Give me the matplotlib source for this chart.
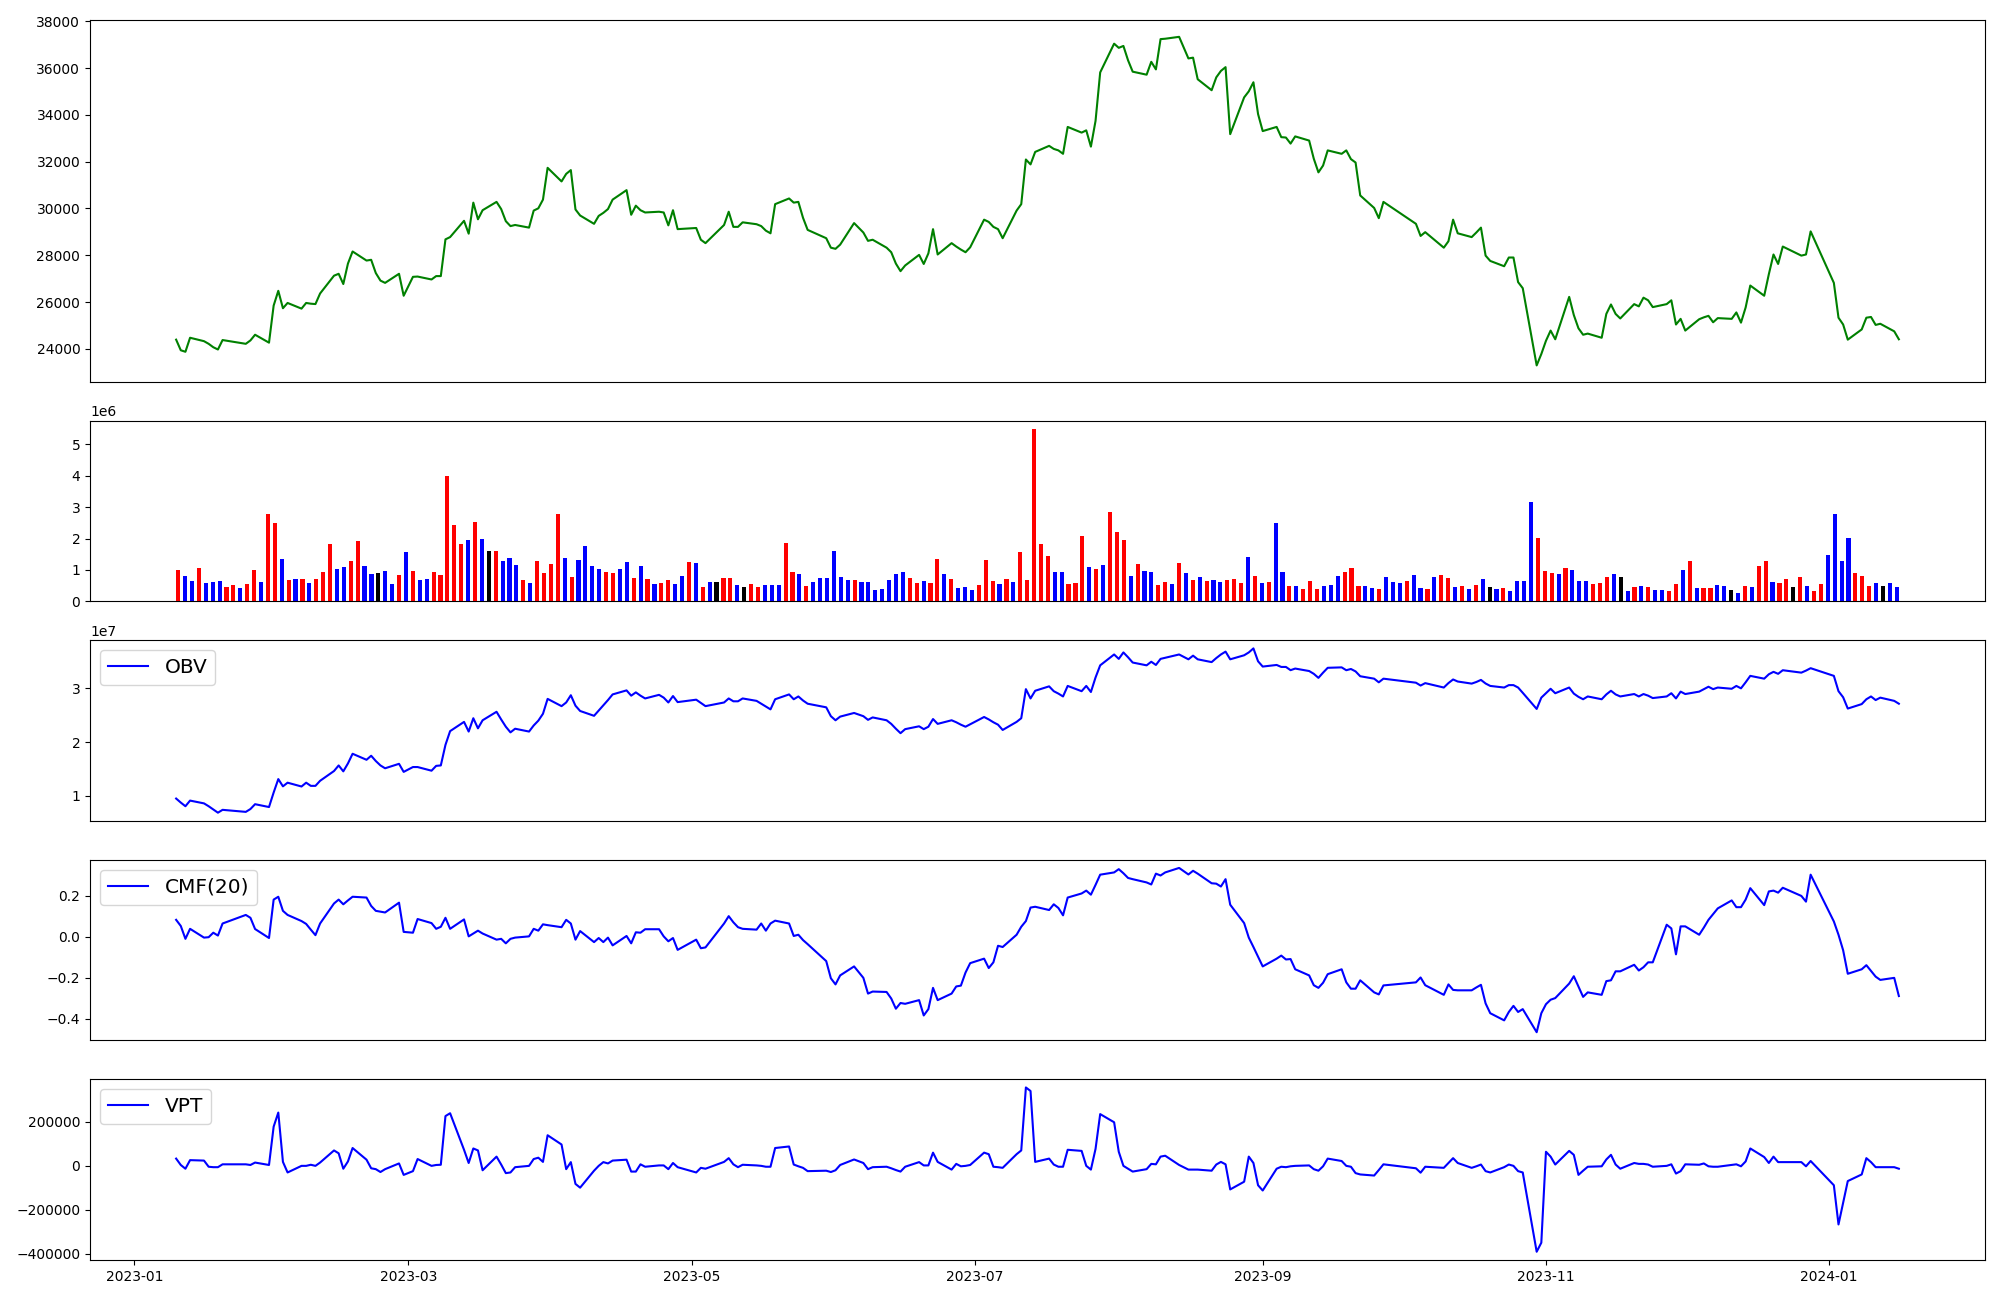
import matplotlib
matplotlib.use("Agg")
import matplotlib.pyplot as plt
import numpy as np
import pandas as pd

# trading days (KRX holidays removed)
holidays = ['2023-01-23', '2023-01-24', '2023-03-01', '2023-05-01', '2023-05-05',
            '2023-05-29', '2023-06-06', '2023-08-15', '2023-09-28', '2023-09-29',
            '2023-10-02', '2023-10-03', '2023-10-09', '2023-12-25', '2023-12-29',
            '2024-01-01']
dates = pd.bdate_range('2023-01-10', '2024-01-16')
dates = dates[~dates.isin(pd.to_datetime(holidays))]

# closing price
close = [
    24393, 23939, 23875, 24474, 24328, 24215, 24069, 23972, 24376, 24215, 24360, 24603, 24264, 25849,
    26480, 25736, 25962, 25719, 25962, 25930, 25914, 26366, 27127, 27208, 26771, 27645, 28162, 27774,
    27806, 27240, 26917, 26820, 27208, 26270,
    27078, 27090, 26965, 27110, 27110, 28680, 28777, 29473, 28923, 30250, 29538, 29926, 30282, 29975,
    29457, 29247, 29295, 29182, 29910, 30007, 30379, 31738,
    31156, 31479, 31641, 29958, 29700, 29344, 29683, 29813, 29975, 30379, 30784, 29732, 30120, 29926,
    29829, 29861, 29829, 29279, 29926, 29117,
    29166, 28664, 28519, 29295, 29861, 29214, 29214, 29408, 29327, 29247, 29052, 28939, 30185, 30428,
    30250, 30282, 29603, 29085, 28729, 28324,
    28276, 28454, 29376, 28972, 28616, 28664, 28324, 28130, 27645, 27321, 27564, 28017, 27628, 28081,
    29117, 28033, 28518, 28373, 28244, 28130, 28340,
    29522, 29425, 29214, 29117, 28729, 29910, 30185, 32094, 31884, 32418, 32677, 32547, 32483, 32337,
    33486, 33243, 33340, 32644, 33745, 35816, 37045,
    36867, 36948, 36334, 35848, 35719, 36269, 35945, 37240, 37256, 37337, 36414, 36447, 35524, 35055,
    35605, 35880, 36042, 33178, 34748, 35007, 35395, 34036,
    33308, 33486, 33049, 33033, 32774, 33081, 32903, 32127, 31544, 31836, 32483, 32337, 32483, 32110,
    31965, 30557, 30023, 29586, 30282,
    29344, 28826, 28988, 28324, 28600, 29522, 28939, 28777, 28972, 29182, 27985, 27758, 27531, 27904,
    27904, 26852, 26593, 23292, 23778,
    24344, 24781, 24409, 26221, 25444, 24878, 24603, 24652, 24474, 25493, 25897, 25493, 25299, 25912,
    25816, 26188, 26075, 25784, 25912, 26075, 25040, 25282,
    24781, 25266, 25347, 25411, 25136, 25314, 25282, 25557, 25120, 25767, 26706, 26270, 27192, 28033,
    27629, 28373, 27985, 28033, 29020,
    26820, 25331, 25040, 24393, 24830, 25331, 25363, 25023, 25072, 24749, 24409,
]

# volume in millions of shares
volume = [
    1.00, 0.81, 0.65, 1.06, 0.59, 0.62, 0.65, 0.46, 0.52, 0.42, 0.55, 1.00, 0.62, 2.77,
    2.50, 1.35, 0.68, 0.71, 0.71, 0.59, 0.71, 0.94, 1.82, 1.03, 1.10, 1.28, 1.92, 1.12, 0.87, 0.90,
    0.97, 0.55, 0.84, 1.57,
    0.97, 0.68, 0.71, 0.94, 0.84, 3.98, 2.42, 1.82, 1.95, 2.52, 1.98, 1.60, 1.60, 1.28, 1.38, 1.16,
    0.68, 0.59, 1.28, 0.90, 1.19, 2.77,
    1.38, 0.77, 1.31, 1.76, 1.12, 1.03, 0.94, 0.90, 1.03, 1.25, 0.75, 1.12, 0.71, 0.55, 0.59, 0.68,
    0.55, 0.81, 1.25, 1.22,
    0.46, 0.62, 0.62, 0.75, 0.75, 0.52, 0.46, 0.55, 0.46, 0.52, 0.52, 0.52, 1.86, 0.94, 0.87, 0.49,
    0.62, 0.75, 0.75, 1.60,
    0.77, 0.68, 0.68, 0.62, 0.62, 0.36, 0.40, 0.68, 0.87, 0.94, 0.75, 0.59, 0.65, 0.59, 1.35, 0.87,
    0.71, 0.42, 0.46, 0.36, 0.52,
    1.31, 0.65, 0.55, 0.71, 0.62, 1.57, 0.68, 5.48, 1.82, 1.45, 0.94, 0.94, 0.55, 0.59, 2.07, 1.10,
    1.03, 1.16, 2.85, 2.21, 1.95,
    0.81, 1.19, 0.97, 0.94, 0.52, 0.62, 0.55, 1.22, 0.90, 0.68, 0.77, 0.65, 0.68, 0.62, 0.68, 0.71,
    0.59, 1.41, 0.81, 0.59, 0.62, 2.50,
    0.94, 0.49, 0.49, 0.40, 0.65, 0.40, 0.49, 0.52, 0.81, 0.94, 1.06, 0.49, 0.49, 0.42, 0.40, 0.77,
    0.62, 0.59, 0.65,
    0.84, 0.42, 0.40, 0.77, 0.84, 0.75, 0.46, 0.49, 0.40, 0.52, 0.71, 0.46, 0.40, 0.42, 0.34, 0.65,
    0.65, 3.16, 2.01,
    0.97, 0.90, 0.87, 1.06, 1.00, 0.65, 0.65, 0.55, 0.59, 0.77, 0.87, 0.77, 0.34, 0.46, 0.49, 0.46,
    0.36, 0.36, 0.34, 0.55, 1.00, 1.28,
    0.42, 0.42, 0.42, 0.52, 0.49, 0.36, 0.27, 0.49, 0.46, 1.12, 1.28, 0.62, 0.59, 0.71, 0.46, 0.77,
    0.49, 0.34, 0.55,
    1.47, 2.77, 1.28, 2.01, 0.90, 0.81, 0.49, 0.59, 0.49, 0.59, 0.46,
]

# bar colour per day: r = up candle, b = down candle, k = unchanged
bar_codes = ("rbbrbbbrrbrrbr" "rbrbrbrrrbbrrbbkbbrb" "rbbrrrrrbrbkrbbbrbrrrr"
             "brbbbbrrbbrbrbrrbbrb" "rbkrrbkrrbbbrrbrbbbb" "bbrbbbbbbbrrbrrbrbbbr"
             "rrbrbrrrrrbbrrrbrbrrr" "brbbrrbrbrbrbbrrrbrbrb" "brbrrrbbbrrrbbrbbbr"
             "bbrbrrbrbrbkbrbbbbr" "rrbrbbbrrrbkbrbrbbrrbr" "brrbbkbrbrrbrrkrbrr"
             "bbbbrrrbkbb")

# OBV in units of 1e7
obv = [
    0.952, 0.877, 0.809, 0.914, 0.862, 0.809, 0.749, 0.689, 0.742, 0.704, 0.757, 0.847, 0.794, 1.064,
    1.314, 1.179, 1.247, 1.176, 1.247, 1.188, 1.188, 1.282, 1.464, 1.568, 1.458, 1.605, 1.785, 1.673,
    1.748, 1.650, 1.568, 1.515, 1.598, 1.448,
    1.538, 1.538, 1.470, 1.560, 1.568, 1.950, 2.206, 2.378, 2.198, 2.446, 2.258, 2.408, 2.566, 2.423,
    2.288, 2.183, 2.251, 2.198, 2.311, 2.401, 2.529, 2.806,
    2.671, 2.739, 2.874, 2.679, 2.581, 2.491, 2.589, 2.686, 2.784, 2.889, 2.964, 2.866, 2.927, 2.866,
    2.814, 2.881, 2.829, 2.739, 2.859, 2.746,
    2.791, 2.731, 2.671, 2.739, 2.814, 2.761, 2.761, 2.814, 2.769, 2.716, 2.664, 2.611, 2.799, 2.889,
    2.799, 2.851, 2.776, 2.716, 2.649, 2.484,
    2.408, 2.476, 2.544, 2.484, 2.416, 2.461, 2.408, 2.341, 2.251, 2.168, 2.243, 2.296, 2.243, 2.288,
    2.431, 2.341, 2.408, 2.371, 2.326, 2.288, 2.333,
    2.469, 2.424, 2.371, 2.326, 2.228, 2.378, 2.446, 2.987, 2.814, 2.957, 3.039, 2.949, 2.904, 2.851,
    3.047, 2.949, 3.047, 2.934, 3.204, 3.430, 3.632,
    3.550, 3.670, 3.580, 3.482, 3.430, 3.497, 3.437, 3.550, 3.570, 3.632, 3.542, 3.610, 3.542, 3.490,
    3.565, 3.632, 3.685, 3.542, 3.617, 3.670, 3.745, 3.505,
    3.407, 3.437, 3.400, 3.400, 3.340, 3.370, 3.324, 3.272, 3.197, 3.294, 3.384, 3.392, 3.339, 3.362,
    3.317, 3.227, 3.182, 3.114, 3.182,
    3.107, 3.054, 3.099, 3.017, 3.100, 3.167, 3.129, 3.090, 3.120, 3.159, 3.092, 3.047, 3.017, 3.062,
    3.062, 3.017, 2.919, 2.619, 2.829,
    2.911, 2.994, 2.911, 3.017, 2.904, 2.844, 2.799, 2.851, 2.799, 2.889, 2.957, 2.889, 2.851, 2.896,
    2.851, 2.896, 2.866, 2.821, 2.851, 2.911, 2.814, 2.941,
    2.896, 2.941, 2.987, 3.032, 2.987, 3.017, 2.994, 3.047, 3.002, 3.114, 3.234, 3.182, 3.264, 3.309,
    3.272, 3.339, 3.294, 3.332, 3.377,
    3.234, 2.949, 2.836, 2.626, 2.709, 2.799, 2.851, 2.784, 2.829, 2.769, 2.716,
]

# Chaikin money flow, 20 days
cmf = [
    0.083, 0.053, -0.010, 0.039, -0.004, -0.002, 0.020, 0.006, 0.065, 0.107, 0.093, 0.038, -0.006, 0.182,
    0.196, 0.127, 0.107, 0.077, 0.063, 0.035, 0.008, 0.065, 0.163, 0.182, 0.159, 0.178, 0.196, 0.192,
    0.151, 0.127, 0.123, 0.119, 0.167, 0.024,
    0.020, 0.087, 0.067, 0.039, 0.049, 0.093, 0.039, 0.085, 0.002, 0.016, 0.030, 0.016, -0.014, -0.010,
    -0.032, -0.010, -0.004, 0.002, 0.039, 0.030, 0.061, 0.057,
    0.047, 0.083, 0.065, -0.014, 0.028, -0.026, -0.006, -0.026, -0.004, -0.042, 0.004, -0.032, 0.022,
    0.020, 0.037, 0.037, 0.002, -0.022, -0.006, -0.064,
    -0.014, -0.056, -0.052, 0.065, 0.101, 0.071, 0.047, 0.039, 0.035, 0.065, 0.030, 0.065, 0.079, 0.065,
    0.004, 0.010, -0.016, -0.036, -0.119, -0.203,
    -0.233, -0.189, -0.145, -0.201, -0.278, -0.268, -0.270, -0.302, -0.352, -0.324, -0.328, -0.310,
    -0.385, -0.354, -0.250, -0.310, -0.278, -0.243, -0.239, -0.175, -0.129,
    -0.107, -0.153, -0.125, -0.044, -0.050, 0.010, 0.049, 0.077, 0.143, 0.147, 0.131, 0.159, 0.141,
    0.105, 0.192, 0.212, 0.226, 0.206, 0.254, 0.304, 0.315,
    0.331, 0.311, 0.288, 0.282, 0.266, 0.256, 0.309, 0.300, 0.315, 0.337, 0.305, 0.323, 0.309, 0.262,
    0.260, 0.246, 0.282, 0.157, 0.067, -0.004, -0.050, -0.098,
    -0.145, -0.107, -0.092, -0.111, -0.109, -0.159, -0.189, -0.237, -0.250, -0.225, -0.183, -0.159,
    -0.223, -0.254, -0.254, -0.213, -0.272, -0.282, -0.238,
    -0.223, -0.199, -0.237, -0.284, -0.233, -0.260, -0.262, -0.262, -0.248, -0.235, -0.326, -0.374,
    -0.409, -0.368, -0.338, -0.368, -0.354, -0.467, -0.374,
    -0.330, -0.308, -0.300, -0.229, -0.193, -0.243, -0.294, -0.272, -0.284, -0.217, -0.213, -0.169,
    -0.169, -0.137, -0.165, -0.149, -0.125, -0.125, 0.059, 0.041, -0.086, 0.051,
    0.051, 0.010, 0.045, 0.083, 0.111, 0.139, 0.178, 0.145, 0.145, 0.182, 0.238, 0.155, 0.222, 0.226,
    0.216, 0.240, 0.200, 0.172, 0.304,
    0.075, 0.010, -0.066, -0.181, -0.159, -0.139, -0.167, -0.195, -0.211, -0.201, -0.290,
]

# volume price trend, thousands
vpt = [
    32, 3, -14, 25, 23, -5, -7, -7, 6, 6, 3, 14, 3, 177,
    241, 17, -31, -1, -1, 4, -1, 14, 69, 56, -14, 19, 80, 27, -12, -16, -29, -16, 10, -42,
    -25, 30, -1, 3, 4, 225, 238, 72, 12, 78, 69, -21, 41, 5, -34, -31, -7, -1, 30, 36, 17, 138,
    96, -16, 16, -83, -100, -23, -1, 16, 10, 23, 27, -27, -27, 6, -5, 1, 1, -16, 12, -7,
    -31, -10, -14, 17, 34, 6, -7, 4, 1, -1, -5, -5, 80, 87, 5, -3, -10, -25, -23, -29,
    -21, 3, 28, 12, -16, -7, -5, -12, -20, -27, -5, 16, 1, 1, 59, 17, -18, 8, -3, -1, 3,
    59, 52, -5, -7, -10, 52, 69, 355, 339, 17, 32, 5, -5, -5, 72, 67, -1, -18, 76, 234, 197,
    63, -1, -14, -27, -16, 8, 6, 41, 45, 3, -18, -18, -18, -23, 5, 17, 6, -108, -73, 41, 12, -89,
    -113, -14, -5, -7, -3, -1, 1, -16, -23, -3, 32, 21, -1, -5, -34, -40, -45, -20, 6,
    -12, -32, -5, -10, 12, 34, 12, -10, -3, 5, -25, -31, -7, 5, -1, -25, -31, -391, -350,
    63, 41, 5, 67, 49, -42, -23, -5, -3, 28, 49, 5, -14, 12, 8, 8, 5, -5, -1, 6, -36, -25,
    6, 4, 10, -3, -5, -5, 3, 6, -3, 19, 78, 39, 12, 41, 16, 16, 16, -3, 21,
    -89, -267, -168, -70, -40, 34, 16, -7, -7, -7, -14,
]

color_map = {'r': 'red', 'b': 'blue', 'k': 'black'}
bar_colors = [color_map[c] for c in bar_codes]

fig, axes = plt.subplots(5, 1, figsize=(20, 13),
                         gridspec_kw={'height_ratios': [2, 1, 1, 1, 1]})
fig.subplots_adjust(left=0.045, right=0.9925, top=0.9843, bottom=0.0308, hspace=0.179)
ax_price, ax_vol, ax_obv, ax_cmf, ax_vpt = axes
for ax in (ax_price, ax_obv, ax_cmf):
    ax.sharex(ax_vpt)

ax_price.plot(dates, close, color='green', linewidth=1.5)

# volume bars are drawn by day number, not by date
ax_vol.bar(np.arange(len(volume)), np.array(volume) * 1e6, color=bar_colors, width=0.6)

ax_obv.plot(dates, np.array(obv) * 1e7, color='blue', linewidth=1.5, label='OBV')
ax_obv.legend(loc='upper left', fontsize=14.5)

ax_cmf.plot(dates, cmf, color='blue', linewidth=1.5, label='CMF(20)')
ax_cmf.legend(loc='upper left', fontsize=14.5)

ax_vpt.plot(dates, np.array(vpt) * 1000, color='blue', linewidth=1.5, label='VPT')
ax_vpt.legend(loc='upper left', fontsize=14.5)

for ax in axes[:-1]:
    ax.tick_params(axis='x', bottom=False, labelbottom=False)

fig.savefig('out.png', dpi=100)
